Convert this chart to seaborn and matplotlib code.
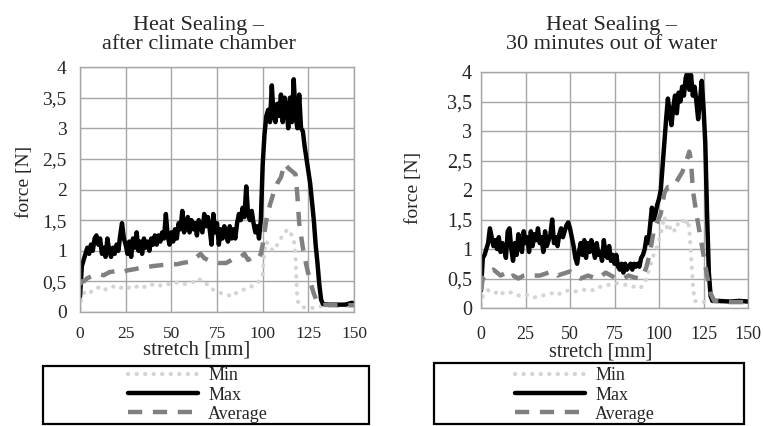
import matplotlib
matplotlib.use("Agg")
import matplotlib.pyplot as plt
from matplotlib.patches import Rectangle
import seaborn as sns

# ---------------- data ----------------
titles = ["Heat Sealing –\nafter climate chamber", "Heat Sealing –\n30 minutes out of water"]
series_names = ["Min", "Max", "Average"]
x_ticks = [0, 25, 50, 75, 100, 125, 150]
y_ticks = [0, 0.5, 1, 1.5, 2, 2.5, 3, 3.5, 4]
y_tick_labels = ["0", "0,5", "1", "1,5", "2", "2,5", "3", "3,5", "4"]
x_label = "stretch [mm]"
y_label = "force [N]"

# Left chart: after climate chamber
L_max_x = list(range(0, 134)) + [136, 140, 145, 149, 150]
L_max_y = [0.25, 0.75, 0.85, 0.95, 1.05, 0.95, 1.1, 1.0, 1.2, 1.25,
           1.1, 1.2, 0.95, 1.05, 0.9, 1.2, 1.0, 0.9, 1.05, 0.95,
           1.1, 1.0, 1.25, 1.45, 1.2, 1.1, 0.95, 1.15, 0.9, 1.2,
           1.05, 1.3, 1.0, 1.15, 0.95, 1.2, 1.05, 1.15, 1.0, 1.2,
           1.1, 1.25, 1.1, 1.25, 1.15, 1.3, 1.2, 1.6, 1.25, 1.1,
           1.3, 1.15, 1.35, 1.2, 1.45, 1.35, 1.65, 1.3, 1.45, 1.55,
           1.3, 1.5, 1.35, 1.45, 1.25, 1.5, 1.4, 1.3, 1.6, 1.4,
           1.55, 1.35, 1.1, 1.6, 1.3, 1.45, 1.1, 1.35, 1.2, 1.4,
           1.25, 1.15, 1.4, 1.2, 1.35, 1.2, 1.45, 1.6, 1.5, 1.7,
           1.55, 2.05, 1.6, 1.5, 1.65, 1.45, 1.3, 1.4, 1.2, 1.5,
           2.4, 2.9, 3.2, 3.3, 3.1, 3.7, 3.2, 3.1, 3.4, 3.2,
           3.55, 3.1, 3.5, 3.35, 3.0, 3.5, 3.1, 3.8, 3.2, 3.0,
           3.55, 3.0, 2.95, 2.7, 2.5, 2.3, 2.1, 1.8, 1.5, 1.1,
           0.8, 0.45, 0.2, 0.13,
           0.12, 0.12, 0.12, 0.15, 0.12]

L_avg_x = [0, 1, 2, 4, 6, 8, 10, 13, 16, 20, 23, 26, 30, 33, 36, 40, 43, 46, 50, 53,
           56, 60, 62, 64, 66, 68, 70, 73, 76, 80, 83, 86, 88, 90, 92, 94, 96, 98, 99, 100,
           101, 102, 104, 106, 108, 110, 112, 114, 116, 118, 119, 120, 122, 124, 126, 128, 130, 132, 140, 150]
L_avg_y = [0.45, 0.5, 0.5, 0.55, 0.58, 0.6, 0.62, 0.6, 0.65, 0.67, 0.65, 0.68, 0.7, 0.72, 0.73, 0.75, 0.76, 0.77, 0.78, 0.78,
           0.8, 0.82, 0.85, 0.9, 0.95, 0.88, 0.85, 0.82, 0.8, 0.8, 0.85, 0.88, 0.9, 0.95, 0.85, 0.88, 0.85, 0.9, 0.95, 1.1,
           1.3, 1.5, 1.75, 1.95, 2.1, 2.2, 2.42, 2.35, 2.3, 2.25, 1.9, 1.45, 1.05, 0.75, 0.5, 0.3, 0.15, 0.12, 0.11, 0.11]

L_min_x = [0, 1, 3, 5, 7, 10, 12, 15, 18, 20, 23, 25, 28, 30, 33, 36, 40, 43, 46, 50,
           53, 56, 60, 63, 65, 67, 70, 72, 75, 78, 81, 83, 85, 88, 91, 94, 96, 98, 99, 100,
           101, 102, 104, 106, 108, 110, 112, 114, 116, 117, 118, 118.5, 119, 120, 122, 125, 128, 131, 135, 140, 150]
L_min_y = [0.05, 0.28, 0.33, 0.3, 0.36, 0.4, 0.35, 0.38, 0.42, 0.38, 0.4, 0.37, 0.42, 0.4, 0.44, 0.4, 0.45, 0.42, 0.46, 0.45,
           0.48, 0.45, 0.47, 0.5, 0.55, 0.48, 0.45, 0.38, 0.33, 0.3, 0.28, 0.25, 0.3, 0.35, 0.38, 0.42, 0.45, 0.5, 0.55, 0.62,
           1.0, 1.15, 1.05, 1.0, 1.1, 1.2, 1.3, 1.35, 1.25, 1.2, 0.9, 0.5, 0.2, 0.12, 0.08, 0.06, 0.07, 0.09, 0.1, 0.1, 0.1]

# Right chart: 30 minutes out of water
R_max_x = list(range(0, 131)) + [133, 140, 145, 150]
R_max_y = [0.3, 0.85, 0.9, 1.0, 1.1, 1.35, 1.2, 1.05, 1.15, 1.0,
           1.2, 0.95, 1.1, 1.0, 0.85, 1.3, 1.35, 1.0, 0.8, 1.1,
           0.9, 1.25, 1.05, 0.95, 1.3, 1.1, 1.2, 0.95, 1.3, 1.05,
           1.25, 1.15, 1.35, 1.1, 1.2, 0.95, 1.3, 1.05, 1.15, 1.25,
           1.5, 1.1, 1.2, 1.05, 1.25, 1.35, 1.2, 1.3, 1.4, 1.45,
           1.35, 1.2, 1.05, 0.85, 0.75, 0.95, 1.1, 0.9, 1.15, 0.85,
           1.1, 0.95, 1.15, 1.0, 0.85, 1.1, 0.9, 0.95, 0.8, 1.15,
           0.9, 0.85, 1.05, 0.8, 0.9, 0.75, 0.9, 0.7, 0.65, 0.75,
           0.6, 0.75, 0.65, 0.7, 0.75, 0.65, 0.75, 0.7, 0.75, 0.7,
           0.85, 0.9, 1.0, 1.2, 1.1, 1.4, 1.7, 1.5, 1.6, 1.75,
           1.85, 2.0, 2.4, 2.8, 3.2, 3.55, 3.3, 3.1, 3.4, 3.6,
           3.3, 3.65, 3.5, 3.75, 3.6, 3.9, 4.0, 3.7, 3.95, 3.6,
           3.75, 3.5, 3.2, 3.5, 3.85, 3.4, 2.8, 1.6, 0.6, 0.2,
           0.12,
           0.12, 0.11, 0.12, 0.11]

R_avg_x = [0, 1, 3, 5, 7, 9, 11, 13, 15, 18, 21, 24, 27, 30, 33, 36, 40, 43, 46, 50,
           53, 56, 60, 63, 66, 70, 73, 76, 80, 83, 86, 89, 91, 93, 95, 97, 99, 101, 103, 105,
           107, 109, 111, 113, 115, 117, 118, 119, 121, 123, 125, 127, 129, 131, 140, 150]
R_avg_y = [0.3, 0.5, 0.55, 0.62, 0.65, 0.6, 0.55, 0.58, 0.5, 0.55, 0.5, 0.55, 0.57, 0.55, 0.55, 0.58, 0.62, 0.55, 0.58, 0.62,
           0.55, 0.5, 0.55, 0.52, 0.5, 0.6, 0.55, 0.5, 0.5, 0.55, 0.52, 0.5, 0.55, 0.7, 0.95, 1.3, 1.45, 1.6, 1.95, 2.05,
           2.05, 2.1, 2.2, 2.3, 2.45, 2.65, 2.5, 2.0, 1.6, 1.25, 0.9, 0.55, 0.25, 0.12, 0.1, 0.1]

R_min_x = [0, 1, 2, 4, 6, 8, 10, 12, 15, 18, 20, 23, 26, 30, 33, 36, 40, 43, 46, 50,
           53, 56, 60, 63, 66, 70, 73, 76, 80, 83, 86, 89, 91, 93, 95, 97, 99, 101, 103, 105,
           107, 109, 111, 113, 115, 116, 117, 118, 119, 120, 123, 126, 130, 140, 150]
R_min_y = [0.05, 0.2, 0.25, 0.3, 0.27, 0.25, 0.3, 0.25, 0.28, 0.25, 0.22, 0.2, 0.22, 0.18, 0.2, 0.22, 0.25, 0.22, 0.28, 0.3,
           0.28, 0.3, 0.32, 0.3, 0.35, 0.38, 0.4, 0.42, 0.4, 0.38, 0.36, 0.33, 0.38, 0.5, 0.7, 0.9, 1.05, 1.25, 1.55, 1.3,
           1.4, 1.3, 1.45, 1.5, 1.4, 1.5, 1.35, 0.9, 0.4, 0.12, 0.1, 0.1, 0.12, 0.1, 0.1]

# ---------------- style ----------------
sns.set_style("white")
plt.rcParams["font.family"] = ["Liberation Serif", "DejaVu Serif"]

COL_MIN = "#d4d4d4"
COL_MAX = "#000000"
COL_AVG = "#808080"
GRID = "#a6a6a6"

fig = plt.figure(figsize=(7.63, 4.26), dpi=100)

W, H = 763.0, 426.0
def fig_rect(x0, x1, ytop, ybot):
    return [x0 / W, 1 - ybot / H, (x1 - x0) / W, (ybot - ytop) / H]

ax_L = fig.add_axes(fig_rect(80, 354, 67, 312))
ax_R = fig.add_axes(fig_rect(481, 748, 72, 308))

panels = [
    dict(ax=ax_L, data=[(L_min_x, L_min_y), (L_max_x, L_max_y), (L_avg_x, L_avg_y)],
         title_x=199, xlab=(0.425, -0.155), ylab=(-0.204, 0.53), xpad=10, ypad=9.5,
         xfs=12.5, yfs=14, labfs=15, leg_cx=198, box=(43, 369, 366, 424)),
    dict(ax=ax_R, data=[(R_min_x, R_min_y), (R_max_x, R_max_y), (R_avg_x, R_avg_y)],
         title_x=612, xlab=(0.4476, -0.185), ylab=(-0.251, 0.508), xpad=13, ypad=6.5,
         xfs=13, yfs=14.5, labfs=14.5, leg_cx=585, box=(434, 744, 363, 424)),
]

styles = [
    dict(color=COL_MIN, lw=3.0, linestyle=(0, (0.05, 2.0)), solid_capstyle="round", dash_capstyle="round"),
    dict(color=COL_MAX, lw=3.2, linestyle="-"),
    dict(color=COL_AVG, lw=3.2, linestyle=(0, (3.2, 2.4)), dash_capstyle="butt"),
]

for i, p in enumerate(panels):
    ax = p["ax"]
    for (xs, ys), name, st in zip(p["data"], series_names, styles):
        sns.lineplot(x=xs, y=ys, ax=ax, label=name, sort=True, **st)
    ax.set_xlim(0, 150)
    ax.set_ylim(0, 4)
    ax.set_xticks(x_ticks)
    ax.set_xticklabels([str(t) for t in x_ticks], fontsize=p["xfs"])
    ax.set_yticks(y_ticks)
    ax.set_yticklabels(y_tick_labels, fontsize=p["yfs"])
    ax.tick_params(axis="x", length=0, pad=p["xpad"])
    ax.tick_params(axis="y", length=0, pad=p["ypad"])
    ax.grid(True, color=GRID, lw=1.0)
    ax.set_axisbelow(True)
    for s in ax.spines.values():
        s.set_color(GRID)
        s.set_linewidth(1.0)
    ax.set_xlabel(x_label, fontsize=p["labfs"])
    ax.xaxis.set_label_coords(*p["xlab"])
    ax.xaxis.label.set_va("center")
    ax.set_ylabel(y_label, fontsize=14)
    ax.yaxis.set_label_coords(*p["ylab"])
    ax.yaxis.label.set_va("center")

    fig.text(p["title_x"] / W, 1 - 35 / H, titles[i], ha="center", va="center",
             fontsize=16, linespacing=1.0)

    handles, labels = ax.get_legend_handles_labels()
    ax.legend(handles, labels, loc="center", bbox_to_anchor=(p["leg_cx"] / W, 1 - 395 / H),
              bbox_transform=fig.transFigure, frameon=False, fontsize=13,
              handlelength=3.9, handletextpad=0.55, labelspacing=0.12, borderpad=0)
    bx0, bx1, by0, by1 = p["box"]
    fig.patches.append(Rectangle((bx0 / W, 1 - by1 / H), (bx1 - bx0) / W, (by1 - by0) / H,
                                 transform=fig.transFigure, fill=False, edgecolor="black",
                                 lw=1.6, clip_on=False))

fig.savefig("out.png", dpi=100)
